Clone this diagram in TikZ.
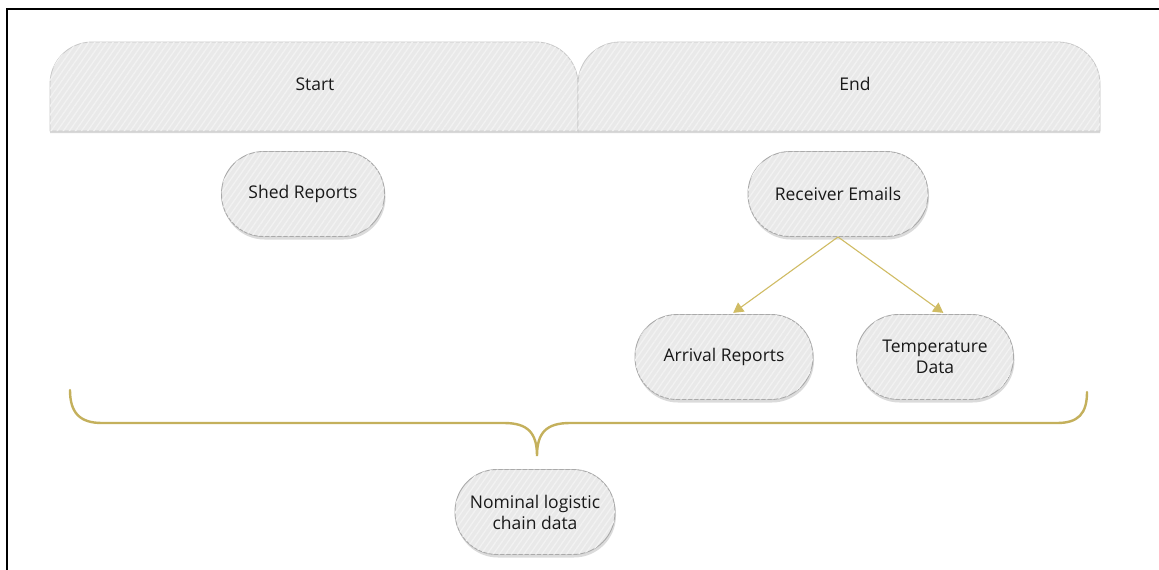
\documentclass[tikz,border=0pt]{standalone}
\usepackage{fontspec}
\setmainfont{Open Sans}
\usetikzlibrary{arrows.meta,shadows,patterns.meta}
\definecolor{boxfill}{RGB}{233,233,233}
\definecolor{boxline}{RGB}{170,170,170}
\definecolor{tabline}{RGB}{200,200,200}
\definecolor{stripe}{RGB}{242,242,242}
\definecolor{gold}{RGB}{196,176,92}
\definecolor{lightgold}{RGB}{208,188,100}
\definecolor{inkgray}{RGB}{25,25,25}
\tikzset{
  hatch/.style={pattern={Lines[angle=55,distance=5pt,line width=1.3pt]},pattern color=stripe},
  tabbox/.style={fill=boxfill,draw=tabline,line width=0.8pt,
    drop shadow={shadow xshift=0pt,shadow yshift=-2pt,opacity=0.3}},
  item/.style={rectangle,rounded corners=42pt,fill=boxfill,draw=boxline,line width=0.9pt,
    minimum width=163pt,minimum height=85pt,align=center,inner sep=2pt,
    font=\fontsize{17.5}{21}\selectfont,text=inkgray,
    drop shadow={shadow xshift=1pt,shadow yshift=-3pt,opacity=0.28},
    postaction={hatch}},
  label/.style={font=\fontsize{17.5}{21}\selectfont,text=inkgray},
  flow/.style={draw=lightgold,line width=1.1pt,-{Triangle[length=10pt,width=11pt]},shorten >=2pt},
  brace/.style={draw=gold,line width=2.4pt,line cap=round}
}
\begin{document}
\begin{tikzpicture}[x=1pt,y=-1pt]
\useasboundingbox (0,0) rectangle (1159,570);
\fill[white] (0,0) rectangle (1159,570);
% outer frame (top and left edges)
\draw[line width=2.2pt] (7,570) -- (7,9) -- (1159,9);

% column headers
\path[tabbox] (50,131) -- (50,84) arc[start angle=180,end angle=270,radius=42]
  -- (536,42) arc[start angle=270,end angle=360,radius=42] -- (578,131) -- cycle;
\path[hatch] (50,131) -- (50,84) arc[start angle=180,end angle=270,radius=42]
  -- (536,42) arc[start angle=270,end angle=360,radius=42] -- (578,131) -- cycle;
\path[tabbox] (578,131) -- (578,84) arc[start angle=180,end angle=270,radius=42]
  -- (1058,42) arc[start angle=270,end angle=360,radius=42] -- (1100,131) -- cycle;
\path[hatch] (578,131) -- (578,84) arc[start angle=180,end angle=270,radius=42]
  -- (1058,42) arc[start angle=270,end angle=360,radius=42] -- (1100,131) -- cycle;
\node[label] (start) at (315,84) {Start};
\node[label] (end) at (855,84) {End};

% data sources
\node[item] (shed) at (303,194) {Shed Reports};
\node[item,minimum width=180pt] (recv) at (838,194) {Receiver Emails};
\node[item,minimum width=178pt] (arr) at (724,357) {Arrival Reports};
\node[item,minimum width=157pt] (temp) at (935,357) {Temperature\\Data};
\node[item,minimum width=160pt] (nom) at (535,512) {Nominal logistic\\chain data};

% connectors
\draw[flow] (recv.south) -- (arr.80);
\draw[flow] (recv.south) -- (temp.77);

% grouping brace
\coordinate (bl) at (70,390);
\coordinate (br) at (1087,392);
\coordinate (tip) at (537,456);
\draw[brace] (bl) .. controls (70,413) and (80,423) .. (102,423) -- (504,423)
  .. controls (528,423) and (537,433) .. (tip)
  .. controls (537,433) and (546,423) .. (570,423) -- (1057,423)
  .. controls (1078,423) and (1087,414) .. (br);
\end{tikzpicture}
\end{document}
